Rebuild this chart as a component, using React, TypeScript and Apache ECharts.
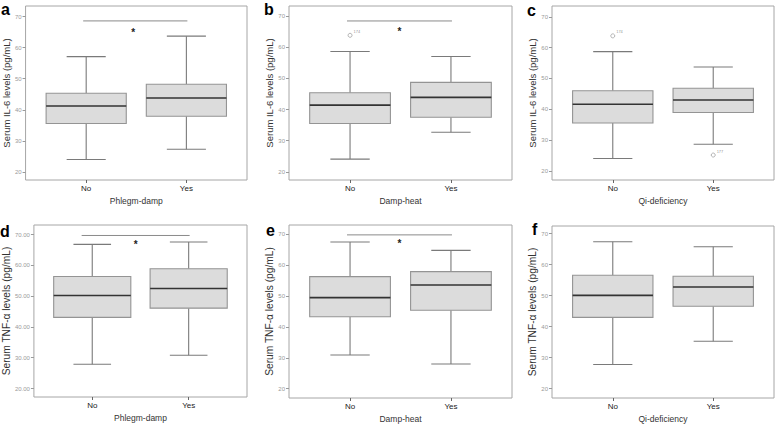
import React, { useEffect, useRef } from 'react';
import * as echarts from 'echarts';

const GROUPS = ['No', 'Yes'];
const PANEL_LETTERS = ['a', 'b', 'c', 'd', 'e', 'f'];
const X_NAMES = ['Phlegm-damp', 'Damp-heat', 'Qi-deficiency', 'Phlegm-damp', 'Damp-heat', 'Qi-deficiency'];
const Y_NAMES = [
  'Serum IL-6 levels (pg/mL)',
  'Serum IL-6 levels (pg/mL)',
  'Serum IL-6 levels (pg/mL)',
  'Serum TNF-α levels (pg/mL)',
  'Serum TNF-α levels (pg/mL)',
  'Serum TNF-α levels (pg/mL)',
];
const Y_TICKS = [20, 30, 40, 50, 60, 70];
const Y_TICK_DECIMALS = [0, 0, 0, 2, 0, 0];

// [min, Q1, median, Q3, max] for No, Yes
const boxA = [[24.0, 35.6, 41.2, 45.3, 57.1], [27.3, 37.9, 43.8, 48.2, 63.7]];
const boxB = [[24.1, 35.5, 41.4, 45.4, 58.6], [32.7, 37.5, 43.9, 48.7, 57.0]];
const boxC = [[24.0, 35.5, 41.6, 46.0, 58.7], [28.6, 38.9, 43.0, 46.8, 53.7]];
const boxD = [[27.9, 43.1, 50.2, 56.4, 66.8], [30.8, 46.1, 52.5, 58.9, 67.6]];
const boxE = [[30.9, 43.3, 49.5, 56.3, 67.5], [28.0, 45.4, 53.6, 57.9, 64.8]];
const boxF = [[27.8, 43.0, 50.1, 56.6, 67.4], [35.3, 46.6, 52.8, 56.3, 65.8]];
const BOXES = [boxA, boxB, boxC, boxD, boxE, boxF];

// [group position, value, case label]
const outliersB = [[1, 63.8, '174']];
const outliersC = [[1, 63.8, '174'], [2, 25.1, '177']];
const OUTLIERS = [[], outliersB, outliersC, [], [], []];

// significance bracket [xStart, xEnd, y] and star [x, y]
const SIG_LINES = [[0.97, 2.01, 68.6], [0.97, 2.01, 68.4], null, [0.89, 2.01, 69.7], [0.97, 2.01, 69.8], null];
const SIG_STARS = [[1.47, 65.7], [1.49, 66.0], null, [1.45, 67.9], [1.49, 68.0], null];

const Y_RANGES = [[17.4, 73.4], [17.4, 73.2], [17.0, 73.5], [17.25, 73.1], [17.0, 73.0], [17.0, 72.5]];

const GRIDS = [
  { left: 24, top: 6, width: 223, height: 174 },
  { left: 289, top: 6, width: 223, height: 174 },
  { left: 552, top: 6, width: 222, height: 174 },
  { left: 33, top: 225, width: 214, height: 172 },
  { left: 289, top: 225, width: 223, height: 173 },
  { left: 552, top: 226, width: 222, height: 172 },
];
const LETTER_POS = [[1, 13], [264, 13], [527, 14], [0, 235], [266, 234], [532, 233]];
const Y_NAME_SIZE = [9.5, 9.5, 9.5, 10.2, 10.2, 10.2];

const FONT = '"Liberation Sans", Arial, sans-serif';
const BOX_W = 0.8;
const CAP_W = 0.39;

const renderBox = (params: any, api: any) => {
  const x = api.value(0);
  const lo = api.coord([x, api.value(1)]);
  const q1 = api.coord([x, api.value(2)]);
  const med = api.coord([x, api.value(3)]);
  const q3 = api.coord([x, api.value(4)]);
  const hi = api.coord([x, api.value(5)]);
  const bw = api.size([BOX_W, 0])[0];
  const cw = api.size([CAP_W, 0])[0];
  const cx = lo[0];
  const ws = { stroke: '#7a7a7a', lineWidth: 1.1 };
  return {
    type: 'group',
    children: [
      { type: 'line', shape: { x1: cx, y1: lo[1], x2: cx, y2: q1[1] }, style: ws },
      { type: 'line', shape: { x1: cx, y1: q3[1], x2: cx, y2: hi[1] }, style: ws },
      { type: 'line', shape: { x1: cx - cw / 2, y1: lo[1], x2: cx + cw / 2, y2: lo[1] }, style: ws },
      { type: 'line', shape: { x1: cx - cw / 2, y1: hi[1], x2: cx + cw / 2, y2: hi[1] }, style: ws },
      {
        type: 'rect',
        shape: { x: cx - bw / 2, y: q3[1], width: bw, height: q1[1] - q3[1] },
        style: { fill: '#dcdcdc', stroke: '#949494', lineWidth: 1.1 },
      },
      {
        type: 'line',
        shape: { x1: cx - bw / 2, y1: med[1], x2: cx + bw / 2, y2: med[1] },
        style: { stroke: '#333333', lineWidth: 1.6 },
      },
    ],
  };
};

const renderSig = (params: any, api: any) => {
  const a = api.coord([api.value(0), api.value(2)]);
  const b = api.coord([api.value(1), api.value(2)]);
  const s = api.coord([api.value(3), api.value(4)]);
  return {
    type: 'group',
    children: [
      { type: 'line', shape: { x1: a[0], y1: a[1], x2: b[0], y2: b[1] }, style: { stroke: '#8a8a8a', lineWidth: 1 } },
      {
        type: 'text',
        x: s[0],
        y: s[1] + 3,
        style: { text: '*', fill: '#222', font: `bold 10px ${FONT}`, align: 'center', verticalAlign: 'middle' },
      },
    ],
  };
};

export default function App() {
  const ref = useRef<HTMLDivElement>(null);
  useEffect(() => {
    if (!ref.current) return;
    const chart = echarts.init(ref.current, undefined, { renderer: 'svg' });
    const grid: any[] = [];
    const xAxis: any[] = [];
    const yAxis: any[] = [];
    const series: any[] = [];
    const graphic: any[] = [];
    for (let i = 0; i < 6; i++) {
      grid.push({ ...GRIDS[i], show: true, borderColor: '#a6a6a6', borderWidth: 1, backgroundColor: '#fff' });
      xAxis.push({
        type: 'value',
        gridIndex: i,
        min: 0.395,
        max: 2.605,
        axisLine: { show: false },
        splitLine: { show: false },
        axisTick: { show: true, customValues: [1, 2], length: 3, lineStyle: { color: '#666' } },
        axisLabel: {
          customValues: [1, 2],
          formatter: (v: number) => GROUPS[Math.round(v) - 1] ?? '',
          color: '#222',
          fontSize: 8,
          fontFamily: FONT,
          margin: 4,
        },
        name: X_NAMES[i],
        nameLocation: 'middle',
        nameGap: 16,
        nameTextStyle: { color: '#333', fontSize: 8.5, fontFamily: FONT },
      });
      yAxis.push({
        type: 'value',
        gridIndex: i,
        min: Y_RANGES[i][0],
        max: Y_RANGES[i][1],
        axisLine: { show: false },
        splitLine: { show: false },
        axisTick: { show: true, customValues: Y_TICKS, length: 3, lineStyle: { color: '#9a9a9a' } },
        axisLabel: {
          customValues: Y_TICKS,
          formatter: (v: number) => v.toFixed(Y_TICK_DECIMALS[i]),
          color: '#9a9a9a',
          fontSize: 6,
          fontFamily: FONT,
          margin: 4,
        },
        name: Y_NAMES[i],
        nameLocation: 'middle',
        nameRotate: 90,
        nameGap: 13,
        nameTextStyle: { color: '#333', fontSize: Y_NAME_SIZE[i], fontFamily: FONT },
      });
      series.push({
        type: 'custom',
        xAxisIndex: i,
        yAxisIndex: i,
        renderItem: renderBox,
        encode: { x: 0, y: [1, 2, 3, 4, 5] },
        data: BOXES[i].map((r, k) => [k + 1, ...r]),
        silent: true,
      });
      if (OUTLIERS[i].length) {
        series.push({
          type: 'scatter',
          xAxisIndex: i,
          yAxisIndex: i,
          symbol: 'circle',
          symbolSize: 4,
          itemStyle: { color: '#ffffff', borderColor: '#8a8a8a', borderWidth: 0.8 },
          label: {
            show: true,
            formatter: (p: any) => p.value[2],
            position: 'right',
            distance: 1,
            offset: [0, -4],
            fontSize: 4,
            color: '#777',
            fontFamily: FONT,
          },
          data: OUTLIERS[i],
          silent: true,
        });
      }
      const sl = SIG_LINES[i];
      const st = SIG_STARS[i];
      if (sl && st) {
        series.push({
          type: 'custom',
          xAxisIndex: i,
          yAxisIndex: i,
          renderItem: renderSig,
          encode: { x: [0, 1, 3], y: [2, 4] },
          data: [[sl[0], sl[1], sl[2], st[0], st[1]]],
          silent: true,
        });
      }
      graphic.push({
        type: 'text',
        x: LETTER_POS[i][0],
        y: LETTER_POS[i][1] + 4,
        style: { text: PANEL_LETTERS[i], fill: '#000', font: `bold 16px ${FONT}`, verticalAlign: 'bottom' },
      });
    }
    chart.setOption({ animation: false, backgroundColor: '#fff', grid, xAxis, yAxis, series, graphic });
    return () => chart.dispose();
  }, []);
  return <div ref={ref} style={{ position: 'absolute', left: 0, top: 0, width: 778, height: 424 }} />;
}
